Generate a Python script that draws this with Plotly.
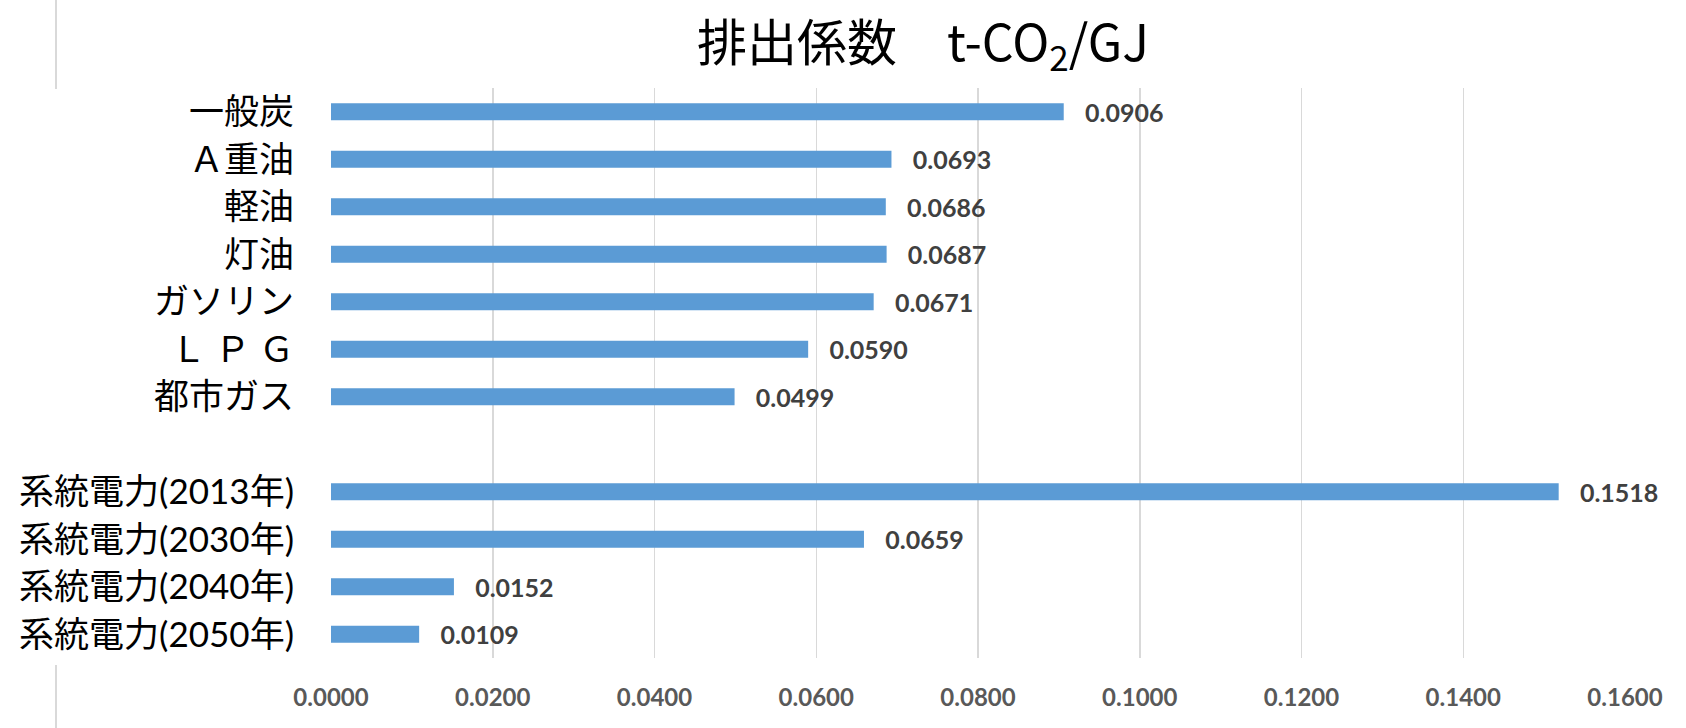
import plotly.graph_objects as go

# ---- data ----
categories = ["一般炭", "Ａ重油", "軽油", "灯油", "ガソリン", "Ｌ Ｐ Ｇ", "都市ガス", "\u3000",
              "系統電力(2013年)", "系統電力(2030年)", "系統電力(2040年)", "系統電力(2050年)"]
values = [0.0906, 0.0693, 0.0686, 0.0687, 0.0671, 0.0590, 0.0499, None,
          0.1518, 0.0659, 0.0152, 0.0109]
x_ticks = [0.0, 0.02, 0.04, 0.06, 0.08, 0.10, 0.12, 0.14, 0.16]
x_ticklabels = ["0.0000", "0.0200", "0.0400", "0.0600", "0.0800", "0.1000", "0.1200", "0.1400", "0.1600"]
title_text = "排出係数\u3000t-CO<sub>2</sub>/GJ"

# ---- layout constants ----
W, H = 1686, 728
ML, MR, MT, MB = 331, 61, 88, 70
PW, PH = W - ML - MR, H - MT - MB

def px_x(px):
    return (px - ML) / PW

def px_y(py):
    return (H - MB - py) / PH

labels = ["" if v is None else "\u00a0\u00a0\u00a0" + f"{v:.4f}" for v in values]

fig = go.Figure(go.Bar(
    x=values, y=categories, orientation="h",
    marker=dict(color="#5B9BD5", line=dict(width=0)),
    width=0.36,
    text=labels, texttemplate="%{text}", textposition="outside",
    constraintext="none",
    textfont=dict(family="Lato, Noto Sans CJK JP", size=25, color="#404040", weight="bold"),
    cliponaxis=False, hoverinfo="skip",
))

fig.update_layout(
    width=W, height=H,
    margin=dict(l=ML, r=MR, t=MT, b=MB, autoexpand=False),
    paper_bgcolor="white", plot_bgcolor="white",
    showlegend=False,
    title=dict(text=title_text, xref="container", yref="container",
               x=923 / W, xanchor="center", y=1 - 43 / H, yanchor="middle",
               font=dict(family="Noto Sans CJK JP", size=50, color="#000000")),
    xaxis=dict(range=[0, 0.16], tickvals=x_ticks, ticktext=x_ticklabels,
               showgrid=True, gridcolor="#D9D9D9", gridwidth=1.5,
               zeroline=False, showline=False, ticks="",
               ticklabelstandoff=23,
               tickfont=dict(family="Lato, Noto Sans CJK JP", size=24, color="#595959", weight="bold")),
    yaxis=dict(categoryorder="array", categoryarray=categories,
               range=[len(categories) - 0.5, -0.5],
               showgrid=False, zeroline=False, showline=False, ticks="",
               ticklabelstandoff=36,
               tickfont=dict(family="Lato, Noto Sans CJK JP", size=35, color="#000000")),
    shapes=[
        dict(type="line", xref="paper", yref="paper", x0=px_x(56), x1=px_x(56),
             y0=px_y(0), y1=px_y(89), line=dict(color="#D9D9D9", width=2)),
        dict(type="line", xref="paper", yref="paper", x0=px_x(56), x1=px_x(56),
             y0=px_y(665), y1=px_y(728), line=dict(color="#D9D9D9", width=2)),
    ],
)

fig.write_html("out.html",
               config={"displayModeBar": False, "staticPlot": True},
               post_script="document.body.style.margin='0';document.body.style.padding='0';")
